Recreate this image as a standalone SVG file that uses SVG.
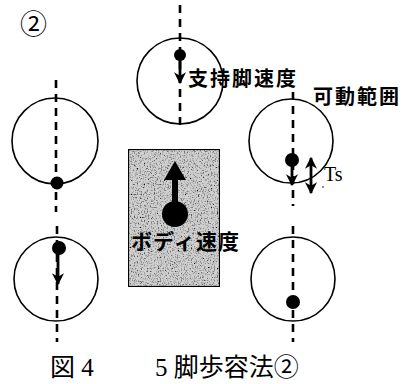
<svg xmlns="http://www.w3.org/2000/svg" width="405" height="384" viewBox="0 0 405 384">
<style>
.c{fill:none;stroke:#000;stroke-width:1.6}
.d{stroke:#000;stroke-width:2.6;stroke-dasharray:8,6;fill:none}
.dot{fill:#000}
.ar{stroke:#000;stroke-width:2.8;fill:none}
.lb{font-family:"Noto Sans CJK JP",sans-serif;font-weight:bold;fill:#000}
.cap{font-family:"Liberation Serif","Noto Sans CJK JP",serif;fill:#000;font-size:25px}
</style>
<defs>
<marker id="ah" viewBox="0 0 10 10" refX="9" refY="5" markerUnits="userSpaceOnUse" markerWidth="12" markerHeight="12" orient="auto-start-reverse"><path d="M0,0L10,5L0,10L3,5Z" fill="#000"/></marker>
<filter id="noise" x="0" y="0" width="100%" height="100%">
<feTurbulence type="fractalNoise" baseFrequency="0.7" numOctaves="2" seed="3" result="t"/>
<feColorMatrix type="matrix" values="0 0 0 0 0  0 0 0 0 0  0 0 0 0 0  -3 0 0 0 1.55" in="t" result="m"/>
<feComposite in="m" in2="SourceGraphic" operator="in" result="n"/>
<feMerge><feMergeNode in="SourceGraphic"/><feMergeNode in="n"/></feMerge>
</filter>
</defs>
<text x="20" y="34" font-family="Noto Sans CJK JP,sans-serif" font-size="27" fill="#000">②</text>
<g id="connectors">
<line class="d" x1="180" y1="5" x2="180" y2="128"/>
<line class="d" x1="56" y1="80" x2="56" y2="212"/>
<line class="d" x1="57" y1="226" x2="57" y2="342"/>
<line class="d" x1="293" y1="92" x2="293" y2="206"/>
<line class="d" x1="293" y1="226" x2="293" y2="342"/>
</g>
<g id="top">
<circle class="c" cx="180" cy="81" r="43"/>
<circle class="dot" cx="180" cy="55" r="6"/>
<line class="ar" x1="180" y1="58" x2="180" y2="83" marker-end="url(#ah)"/>
<text x="188" y="86" class="lb" font-size="20" textLength="108">支持脚速度</text>
</g>
<g id="lefttop">
<circle class="c" cx="55" cy="141" r="43"/>
<circle class="dot" cx="57" cy="183" r="6.5"/>
</g>
<g id="leftbottom">
<circle class="c" cx="56" cy="279" r="42"/>
<circle class="dot" cx="59" cy="248" r="7"/>
<line class="ar" x1="58" y1="252" x2="58" y2="284" marker-end="url(#ah)"/>
</g>
<g id="righttop">
<circle class="c" cx="291" cy="141" r="42"/>
<circle class="dot" cx="292" cy="160" r="7"/>
<line class="ar" x1="292" y1="162" x2="292" y2="185" marker-end="url(#ah)"/>
<line class="ar" x1="311" y1="158" x2="311" y2="193" marker-start="url(#ah)" marker-end="url(#ah)"/>
<text x="324" y="181" font-family="Liberation Serif,serif" font-size="20" fill="#000">Ts</text>
<circle class="dot" cx="323" cy="187" r="0.8"/>
<text x="313" y="104" class="lb" font-size="20" textLength="86">可動範囲</text>
</g>
<g id="rightbottom">
<circle class="c" cx="293" cy="279" r="42"/>
<circle class="dot" cx="293" cy="302" r="7"/>
</g>
<g id="body">
<rect x="128" y="149" width="92" height="138" fill="#d0d0d0" stroke="#000" stroke-width="2.2" filter="url(#noise)"/>
<circle class="dot" cx="175" cy="214" r="13"/>
<line x1="175" y1="210" x2="175" y2="172" stroke="#000" stroke-width="6"/>
<path d="M164,180L175,161L186,180Z" fill="#000"/>
<text x="131" y="249" class="lb" font-size="21" textLength="108">ボディ速度</text>
</g>
<text x="50" y="376" class="cap">図 4</text>
<text x="155" y="376" class="cap">5 脚歩容法②</text>
</svg>
